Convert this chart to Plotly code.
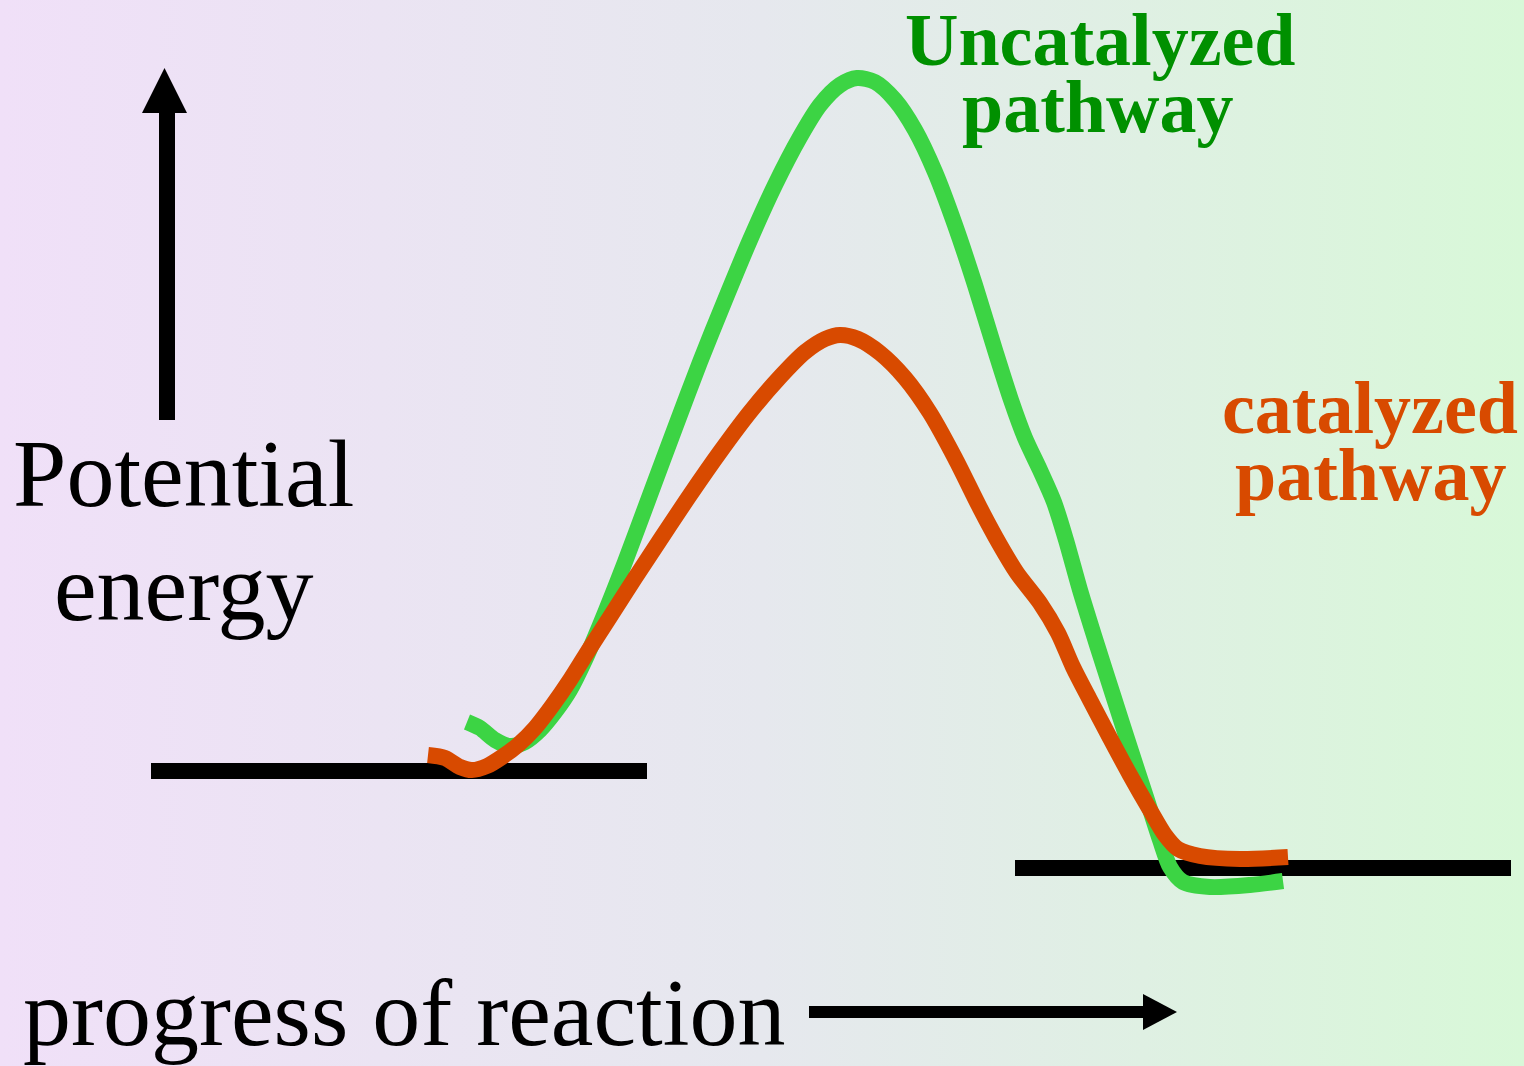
import plotly.graph_objects as go

W, H = 1524, 1066

# Curves (x = progress, y = energy, screen units, y down)
green_x = [467, 480, 495, 510, 525, 540, 555, 570, 585, 600, 625, 650, 675, 700, 725,
           750, 775, 800, 820, 840, 857, 875, 895, 915, 935, 955, 975, 995, 1011, 1025,
           1040, 1054, 1066, 1080, 1097, 1113, 1130, 1147, 1160, 1170, 1183, 1210, 1250,
           1283]
green_y = [722, 728, 740, 746, 742, 730, 712, 690, 660, 625, 562, 495, 428, 362, 300,
           240, 185, 137, 105, 85, 78, 82, 100, 130, 172, 225, 285, 350, 400, 438,
           470, 502, 540, 590, 645, 695, 748, 800, 840, 867, 882, 887, 885,
           881]

orange_x = [428, 445, 460, 472, 487, 502, 518, 535, 552, 570, 590, 610, 635, 660, 690,
            720, 750, 780, 805, 825, 840, 858, 880, 905, 930, 955, 980, 1000, 1017, 1040,
            1058, 1073, 1090, 1110, 1130, 1150, 1165, 1178, 1200, 1240, 1288]
orange_y = [755, 758, 767, 770, 766, 757, 745, 728, 706, 680, 648, 617, 578, 540, 495,
            452, 412, 377, 352, 339, 335, 339, 353, 378, 413, 458, 508, 545, 573, 603,
            633, 667, 700, 738, 775, 810, 835, 849, 856, 859, 857]

# Energy levels: reactants and products
react_x, react_y = [151, 647], [771, 771]
prod_x, prod_y = [1015, 1511], [868, 868]

# Axis arrows
up_shaft_x, up_shaft_y = [167, 167], [420, 110]
up_head_x, up_head_y = [142, 187, 164.5, 142], [113, 113, 68, 113]
rt_shaft_x, rt_shaft_y = [809, 1145], [1012, 1012]
rt_head_x, rt_head_y = [1143, 1143, 1177, 1143], [994, 1030, 1012, 994]

GREEN_LINE = "#3cd444"
ORANGE = "#d84a00"
GREEN_TEXT = "#009000"
SERIF = "Liberation Serif, Times New Roman, serif"

fig = go.Figure()

# background gradient (lavender -> mint)
fig.add_trace(go.Scatter(
    x=[0, W, W, 0, 0], y=[0, 0, H, H, 0],
    mode="lines", line=dict(width=0), fill="toself",
    fillgradient=dict(type="horizontal",
                      colorscale=[[0, "#f0e0f8"], [0.5, "#e6e8ee"], [1, "#d8f8d8"]]),
    hoverinfo="skip", showlegend=False,
))

for xs, ys in [(react_x, react_y), (prod_x, prod_y)]:
    fig.add_trace(go.Scatter(x=xs, y=ys, mode="lines",
                             line=dict(color="black", width=16),
                             hoverinfo="skip", showlegend=False))

fig.add_trace(go.Scatter(x=green_x, y=green_y, mode="lines",
                         line=dict(color=GREEN_LINE, width=16, shape="spline", smoothing=0.8),
                         name="Uncatalyzed pathway", showlegend=False))
fig.add_trace(go.Scatter(x=orange_x, y=orange_y, mode="lines",
                         line=dict(color=ORANGE, width=16, shape="spline", smoothing=0.8),
                         name="catalyzed pathway", showlegend=False))

# arrows
fig.add_trace(go.Scatter(x=up_shaft_x, y=up_shaft_y, mode="lines",
                         line=dict(color="black", width=16), hoverinfo="skip", showlegend=False))
fig.add_trace(go.Scatter(x=rt_shaft_x, y=rt_shaft_y, mode="lines",
                         line=dict(color="black", width=12), hoverinfo="skip", showlegend=False))
for xs, ys in [(up_head_x, up_head_y), (rt_head_x, rt_head_y)]:
    fig.add_trace(go.Scatter(x=xs, y=ys, mode="lines", fill="toself", fillcolor="black",
                             line=dict(color="black", width=0),
                             hoverinfo="skip", showlegend=False))

labels = [
    ("Potential", 183, 473, 96, "black", False),
    ("energy", 183, 587, 96, "black", False),
    ("progress of reaction", 404, 1012, 96, "black", False),
    ("Uncatalyzed", 1100, 40, 74, GREEN_TEXT, True),
    ("pathway", 1097, 107, 74, GREEN_TEXT, True),
    ("catalyzed", 1370, 408, 74, ORANGE, True),
    ("pathway", 1370, 475, 74, ORANGE, True),
]
for text, x, y, size, color, bold in labels:
    fig.add_annotation(
        x=x, y=y, xref="x", yref="y", showarrow=False,
        text=f"<b>{text}</b>" if bold else text,
        xanchor="center", yanchor="middle",
        font=dict(family=SERIF, size=size, color=color),
    )

fig.update_layout(
    width=W, height=H,
    margin=dict(l=0, r=0, t=0, b=0),
    paper_bgcolor="#e6e8ee", plot_bgcolor="rgba(0,0,0,0)",
    xaxis=dict(range=[0, W], visible=False, fixedrange=True),
    yaxis=dict(range=[H, 0], visible=False, fixedrange=True),
    showlegend=False,
)

fig.write_html(
    "out.html",
    config=dict(displayModeBar=False),
    post_script="document.body.style.margin='0';document.body.style.overflow='hidden';",
)
